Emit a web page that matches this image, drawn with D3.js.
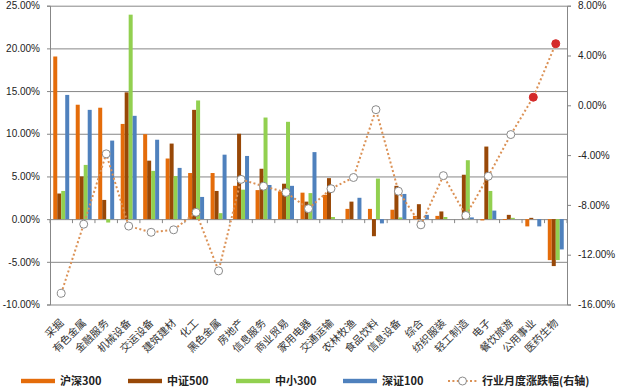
<!DOCTYPE html>
<html>
<head>
<meta charset="utf-8">
<script src="https://cdn.jsdelivr.net/npm/d3@7"></script>
<style>
  body { margin: 0; background: #fff; }
  svg { display: block; }
  .tick text { font-family: "Liberation Sans", Arial, sans-serif; font-size: 10px; fill: #222; }
</style>
</head>
<body>
<svg id="chart" width="618" height="390"></svg>
<script>
// industries, ordered as on the x axis
var categories = ["采掘", "有色金属", "金融服务", "机械设备", "交运设备", "建筑建材", "化工", "黑色金属",
  "房地产", "信息服务", "商业贸易", "家用电器", "交通运输", "农林牧渔", "食品饮料", "信息设备",
  "综合", "纺织服装", "轻工制造", "电子", "餐饮旅游", "公用事业", "医药生物"];

// index weights (%), left axis
var hs300 = [19.05, 13.4, 13.05, 11.15, 9.95, 7.1, 5.4, 5.4, 3.9, 3.4, 3.25, 3.1, 2.85, 1.2, 1.2, 1.1, 0.38, 0.38, 0, -0.15, -0.1, -0.85, -4.8];
var zz500 = [3.0, 5.0, 2.25, 14.85, 6.85, 8.85, 12.8, 3.3, 10.0, 5.9, 4.15, 2.05, 4.8, 2.05, -2.0, 3.9, 1.75, 0.9, 5.2, 8.5, 0.5, 0.15, -5.5];
var zx300 = [3.3, 6.35, -0.4, 23.95, 5.65, 5.05, 13.9, 0.7, 3.45, 11.9, 11.4, 3.05, 0.25, 0, 4.75, 0.2, 0, 0.25, 6.9, 3.3, 0.15, 0, -4.8];
var sz100 = [14.55, 12.8, 9.2, 12.1, 9.3, 6.0, 2.6, 7.55, 7.4, 4.0, 3.9, 7.85, 0, 2.5, -0.5, 2.95, 0.5, 0, 0.2, 1.0, 0, -0.85, -3.55];

// monthly industry change (%), right axis
var monthly = [-15.1, -9.55, -3.9, -9.7, -10.2, -10.0, -8.6, -13.3, -5.95, -6.5, -7.0, -8.3, -6.7, -5.8, -0.35, -6.9, -9.6, -5.65, -8.85, -5.7, -2.35, 0.65, 4.95];

var seriesNames = ["沪深300", "中证500", "中小300", "深证100"];
var seriesData = [hs300, zz500, zx300, sz100];
var colors = ["#E46C0A", "#984807", "#92D050", "#4F81BD"];
var lineName = "行业月度涨跌幅(右轴)";

var leftTicks = d3.range(-10, 26, 5);
var rightTicks = d3.range(-16, 9, 4);

var svg = d3.select("#chart");
var plotL = 50, plotR = 567, plotT = 5.7, plotB = 304.5;

var x0 = d3.scaleBand().domain(categories).range([plotL, plotR]).paddingInner(0.29).paddingOuter(0.145);
var x1 = d3.scaleBand().domain(seriesNames).range([0, x0.bandwidth()]);
var yL = d3.scaleLinear().domain([-10, 25]).range([plotB, plotT]);
var yR = d3.scaleLinear().domain([-16, 8]).range([plotB, plotT]);
var pct = function(v) { return v.toFixed(2) + "%"; };

// gridlines
svg.append("g")
  .attr("transform", "translate(" + plotL + ",0)")
  .call(d3.axisLeft(yL).tickValues(leftTicks).tickSize(-(plotR - plotL)).tickFormat(""))
  .call(function(g) { g.select(".domain").remove(); })
  .selectAll("line").attr("stroke", "#878787");

// bars
var groups = svg.append("g").selectAll("g")
  .data(categories)
  .enter().append("g")
  .attr("transform", function(d) { return "translate(" + x0(d) + ",0)"; });

groups.selectAll("rect")
  .data(function(d, i) { return seriesNames.map(function(s, j) { return {s: s, j: j, v: seriesData[j][i]}; }); })
  .enter().append("rect")
  .attr("x", function(d) { return x1(d.s); })
  .attr("width", x1.bandwidth())
  .attr("y", function(d) { return yL(Math.max(0, d.v)); })
  .attr("height", function(d) { return Math.abs(yL(d.v) - yL(0)); })
  .attr("fill", function(d) { return colors[d.j]; });

// category ticks on the zero line
var step = x0.step();
svg.append("g").selectAll("line")
  .data(d3.range(categories.length + 1))
  .enter().append("line")
  .attr("x1", function(d) { return plotL + d * step; })
  .attr("x2", function(d) { return plotL + d * step; })
  .attr("y1", yL(0)).attr("y2", yL(0) + 4)
  .attr("stroke", "#878787");

// left axis
svg.append("g")
  .attr("transform", "translate(" + plotL + ",0)")
  .call(d3.axisLeft(yL).tickValues(leftTicks).tickSize(3).tickPadding(7).tickFormat(pct))
  .call(function(g) {
    g.select(".domain").attr("stroke", "#878787");
    g.selectAll("line").attr("stroke", "#878787");
  });

// right axis
svg.append("g")
  .attr("transform", "translate(" + plotR + ",0)")
  .call(d3.axisRight(yR).tickValues(rightTicks).tickSize(4).tickPadding(7).tickFormat(pct))
  .call(function(g) {
    g.select(".domain").attr("stroke", "#878787");
    g.selectAll("line").attr("stroke", "#878787");
  });

// monthly change line
var cx = function(i) { return x0(categories[i]) + x0.bandwidth() / 2; };
var line = d3.line().x(function(d, i) { return cx(i); }).y(function(d) { return yR(d); });
svg.append("path")
  .datum(monthly)
  .attr("d", line)
  .attr("fill", "none")
  .attr("stroke", "#DB9155")
  .attr("stroke-width", 2)
  .attr("stroke-dasharray", "2,2.4");

svg.append("g").selectAll("circle")
  .data(monthly)
  .enter().append("circle")
  .attr("cx", function(d, i) { return cx(i); })
  .attr("cy", function(d) { return yR(d); })
  .attr("r", 4)
  .attr("fill", function(d) { return d > 0 ? "#D42A2A" : "#fff"; })
  .attr("stroke", function(d) { return d > 0 ? "#D42A2A" : "#8a8a8a"; })
  .attr("stroke-width", 1);

// category labels
svg.append("g").selectAll("text")
  .data(categories)
  .enter().append("text")
  .attr("transform", function(d, i) { return "translate(" + (cx(i) + 0.5) + ",321) rotate(-45)"; })
  .attr("text-anchor", "end")
  .attr("dy", "0.35em")
  .style("font-family", "'Noto Sans CJK SC', sans-serif")
  .style("font-size", "10.5px")
  .style("fill", "#333")
  .text(function(d) { return d; });

// legend
var legendY = 381;
var legendX = [21, 128, 236, 343];
var lg = svg.append("g");
seriesNames.forEach(function(s, j) {
  lg.append("rect").attr("x", legendX[j]).attr("y", legendY - 2.2).attr("width", 34).attr("height", 4.4).attr("fill", colors[j]);
  lg.append("text").attr("x", legendX[j] + 39).attr("y", legendY + 4)
    .style("font-family", "'Noto Sans CJK SC', sans-serif").style("font-size", "11px").style("font-weight", "bold")
    .style("fill", "#222").text(s);
});
lg.append("line").attr("x1", 448).attr("x2", 477).attr("y1", legendY).attr("y2", legendY)
  .attr("stroke", "#DB9155").attr("stroke-width", 2).attr("stroke-dasharray", "2,2.4");
lg.append("circle").attr("cx", 462.5).attr("cy", legendY).attr("r", 4).attr("fill", "#fff").attr("stroke", "#8a8a8a");
lg.append("text").attr("x", 482).attr("y", legendY + 4)
  .style("font-family", "'Noto Sans CJK SC', sans-serif").style("font-size", "11px").style("font-weight", "bold")
  .style("fill", "#222").text(lineName);
</script>
</body>
</html>
